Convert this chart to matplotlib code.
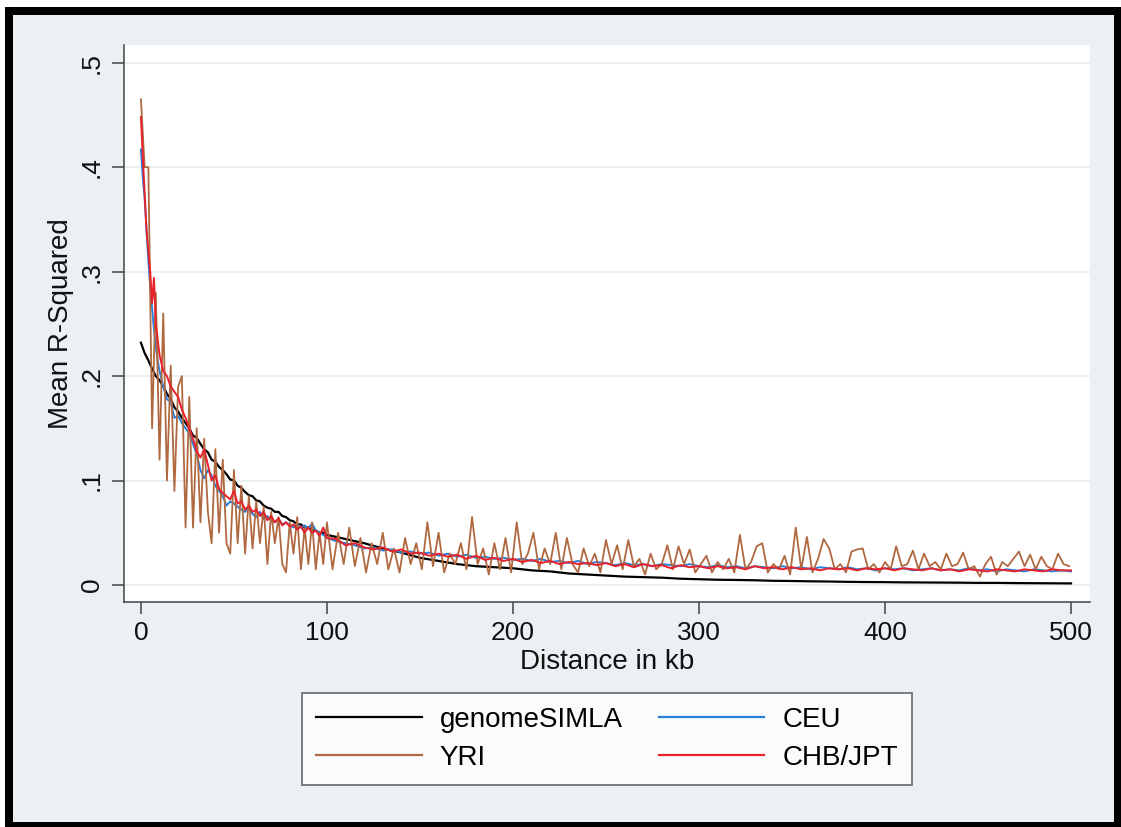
import numpy as np
import matplotlib
matplotlib.use("Agg")
import matplotlib.pyplot as plt
from matplotlib.patches import Rectangle

plt.rcParams['font.family'] = ['Liberation Sans', 'DejaVu Sans']

# genomeSIMLA: 2 kb steps to 100 kb, then 10 kb steps
sim_near = [0.232, 0.222, 0.215, 0.207, 0.200, 0.196, 0.190, 0.183, 0.178, 0.170,
            0.166, 0.160, 0.155, 0.150, 0.143, 0.141, 0.135, 0.130, 0.127, 0.120,
            0.118, 0.113, 0.110, 0.106, 0.101, 0.100, 0.095, 0.093, 0.089, 0.086,
            0.085, 0.081, 0.080, 0.076, 0.074, 0.073, 0.070, 0.070, 0.066, 0.065,
            0.062, 0.061, 0.058, 0.058, 0.055, 0.055, 0.053, 0.052, 0.050, 0.050,
            0.048]
sim_far = [0.044, 0.040, 0.035, 0.031, 0.026, 0.023, 0.020, 0.018, 0.017, 0.016,
           0.014, 0.013, 0.011, 0.010, 0.009, 0.008, 0.0075, 0.007, 0.006, 0.0055,
           0.005, 0.0048, 0.0045, 0.004, 0.0038, 0.0035, 0.0033, 0.003, 0.0028, 0.0027,
           0.0025, 0.0024, 0.0023, 0.0022, 0.002, 0.002, 0.0018, 0.0017, 0.0016, 0.0015]

# CEU: 1 kb steps to 10, 2 kb steps to 100, then 5 kb steps
ceu_first = [0.417, 0.390, 0.370, 0.340, 0.310, 0.285, 0.265, 0.245, 0.228, 0.215, 0.205]
ceu_near = [0.190, 0.178, 0.175, 0.160, 0.162, 0.155, 0.150, 0.145, 0.135, 0.125,
            0.110, 0.102, 0.110, 0.105, 0.095, 0.090, 0.085, 0.076, 0.080, 0.078,
            0.075, 0.072, 0.070, 0.074, 0.068, 0.065, 0.070, 0.063, 0.066, 0.062,
            0.060, 0.063, 0.058, 0.060, 0.057, 0.055, 0.058, 0.055, 0.057, 0.054,
            0.059, 0.052, 0.050, 0.048, 0.045]
ceu_far = [0.042, 0.040, 0.038, 0.035, 0.036, 0.033, 0.034, 0.031, 0.032, 0.030,
           0.031, 0.028, 0.030, 0.027, 0.029, 0.026, 0.027, 0.025, 0.026, 0.024,
           0.025, 0.023, 0.025, 0.022, 0.023, 0.021, 0.023, 0.020, 0.022, 0.021,
           0.019, 0.021, 0.019, 0.020, 0.018, 0.020, 0.019, 0.018, 0.020, 0.018,
           0.017, 0.019, 0.017, 0.018, 0.016, 0.018, 0.017, 0.016, 0.018, 0.016,
           0.017, 0.015, 0.017, 0.016, 0.015, 0.017, 0.015, 0.016, 0.014, 0.016,
           0.015, 0.016, 0.014, 0.015, 0.016, 0.014, 0.015, 0.014, 0.016, 0.014,
           0.015, 0.013, 0.015, 0.014, 0.013, 0.015, 0.014, 0.013, 0.014, 0.013]

# YRI: 2 kb steps to 100, then 3 kb steps from 103
yri_near = [0.465, 0.400, 0.400, 0.150, 0.280, 0.120, 0.260, 0.100, 0.210, 0.090,
            0.190, 0.200, 0.055, 0.180, 0.055, 0.150, 0.060, 0.140, 0.070, 0.040,
            0.130, 0.050, 0.120, 0.040, 0.030, 0.110, 0.040, 0.095, 0.030, 0.085,
            0.035, 0.080, 0.040, 0.075, 0.020, 0.070, 0.040, 0.065, 0.020, 0.012,
            0.060, 0.030, 0.065, 0.015, 0.055, 0.020, 0.060, 0.015, 0.050, 0.020,
            0.060]
yri_far = [0.015, 0.050, 0.020, 0.055, 0.018, 0.045, 0.012, 0.040, 0.020, 0.050,
           0.015, 0.035, 0.012, 0.045, 0.020, 0.040, 0.015, 0.060, 0.018, 0.050,
           0.012, 0.030, 0.020, 0.040, 0.015, 0.065, 0.020, 0.035, 0.010, 0.040,
           0.015, 0.045, 0.012, 0.060, 0.020, 0.030, 0.050, 0.015, 0.035, 0.020,
           0.050, 0.015, 0.045, 0.020, 0.012, 0.035, 0.018, 0.030, 0.012, 0.043,
           0.020, 0.038, 0.015, 0.043, 0.018, 0.025, 0.010, 0.030, 0.015, 0.020,
           0.038, 0.015, 0.037, 0.020, 0.034, 0.012, 0.020, 0.028, 0.012, 0.022,
           0.015, 0.025, 0.012, 0.048, 0.015, 0.022, 0.037, 0.040, 0.012, 0.020,
           0.015, 0.028, 0.010, 0.055, 0.015, 0.046, 0.012, 0.025, 0.044, 0.035,
           0.015, 0.020, 0.012, 0.032, 0.034, 0.035, 0.015, 0.020, 0.012, 0.022,
           0.015, 0.037, 0.018, 0.020, 0.033, 0.015, 0.030, 0.018, 0.022, 0.015,
           0.030, 0.018, 0.020, 0.031, 0.015, 0.018, 0.008, 0.020, 0.027, 0.010,
           0.022, 0.018, 0.025, 0.032, 0.018, 0.029, 0.015, 0.027, 0.018, 0.015,
           0.030, 0.020, 0.018]

# CHB/JPT: same grid as CEU
chb_first = [0.448, 0.410, 0.375, 0.340, 0.320, 0.300, 0.270, 0.294, 0.250, 0.235, 0.220]
chb_near = [0.205, 0.200, 0.190, 0.185, 0.180, 0.168, 0.160, 0.150, 0.140, 0.128,
            0.122, 0.130, 0.115, 0.100, 0.105, 0.092, 0.088, 0.085, 0.082, 0.090,
            0.078, 0.080, 0.072, 0.076, 0.070, 0.072, 0.066, 0.070, 0.062, 0.066,
            0.060, 0.064, 0.057, 0.060, 0.056, 0.058, 0.053, 0.056, 0.050, 0.055,
            0.050, 0.052, 0.047, 0.055, 0.045]
chb_far = [0.044, 0.038, 0.040, 0.036, 0.034, 0.036, 0.032, 0.034, 0.030, 0.031,
           0.028, 0.030, 0.027, 0.029, 0.025, 0.028, 0.024, 0.026, 0.023, 0.025,
           0.022, 0.024, 0.021, 0.023, 0.020, 0.022, 0.020, 0.021, 0.019, 0.021,
           0.018, 0.020, 0.017, 0.020, 0.018, 0.019, 0.016, 0.019, 0.017, 0.018,
           0.016, 0.018, 0.016, 0.017, 0.015, 0.018, 0.016, 0.017, 0.015, 0.017,
           0.015, 0.016, 0.014, 0.016, 0.015, 0.016, 0.014, 0.016, 0.015, 0.016,
           0.014, 0.016, 0.015, 0.014, 0.016, 0.014, 0.015, 0.013, 0.015, 0.014,
           0.013, 0.015, 0.014, 0.013, 0.015, 0.014, 0.013, 0.015, 0.014, 0.014]

# distance grids (kb)
x_sim = np.concatenate([np.arange(0, 101, 2), np.arange(110, 501, 10)])
x_hap = np.concatenate([np.arange(0, 11, 1), np.arange(12, 101, 2), np.arange(105, 501, 5)])
x_yri = np.concatenate([np.arange(0, 101, 2), 103 + 3 * np.arange(len(yri_far))])

y_sim = sim_near + sim_far
y_ceu = ceu_first + ceu_near + ceu_far
y_yri = yri_near + yri_far
y_chb = chb_first + chb_near + chb_far

W, H = 1121, 827
fig = plt.figure(figsize=(W / 100, H / 100), dpi=100, facecolor='white')

# outer frame and light background
fig.patches.append(Rectangle((5 / W, 0), (W - 5) / W, (H - 7) / H,
                             transform=fig.transFigure, facecolor='black',
                             edgecolor='none', zorder=-10))
fig.patches.append(Rectangle((13 / W, 5 / H), (1114 - 13) / W, (822 - 15) / H,
                             transform=fig.transFigure, facecolor='#EAF0F3',
                             edgecolor='none', zorder=-9))

ax = fig.add_axes([124 / W, 1 - 602 / H, (1090 - 124) / W, (602 - 45) / H])
ax.set_facecolor('white')

l_sim, = ax.plot(x_sim, y_sim, color='black', lw=1.6, zorder=3)
l_ceu, = ax.plot(x_hap, y_ceu, color='#2A7FDA', lw=1.4, zorder=4)
l_yri, = ax.plot(x_yri, y_yri, color='#B06840', lw=1.3, zorder=5)
l_chb, = ax.plot(x_hap, y_chb, color='#E8222C', lw=1.4, zorder=6)

ax.set_xlim(-9.1, 510.2)
ax.set_ylim(-0.0163, 0.517)

ax.set_xticks([0, 100, 200, 300, 400, 500])
ax.set_yticks([0, 0.1, 0.2, 0.3, 0.4, 0.5])
ax.set_yticklabels(['0', '.1', '.2', '.3', '.4', '.5'], rotation=90, va='center')
ax.tick_params(axis='both', labelsize=19, length=8.5, width=1.1, color='#444444',
               labelcolor='#111111')
ax.tick_params(axis='x', pad=5)
ax.tick_params(axis='y', pad=6)

ax.grid(axis='y', color='#E6ECEF', lw=1.2)
ax.set_axisbelow(True)
for s in ['top', 'right']:
    ax.spines[s].set_visible(False)
for s in ['left', 'bottom']:
    ax.spines[s].set_color('#444444')
    ax.spines[s].set_linewidth(1.1)

ax.set_xlabel('Distance in kb', fontsize=20, labelpad=3, color='#111111')
ax.set_ylabel('Mean R-Squared', fontsize=20, labelpad=4, color='#111111')

leg = ax.legend([l_sim, l_yri, l_ceu, l_chb], ['genomeSIMLA', 'YRI', 'CEU', 'CHB/JPT'],
                ncol=2, loc='upper center', bbox_to_anchor=(0.5, -0.163),
                fontsize=20, frameon=True, fancybox=False, edgecolor='#444444',
                handlelength=3.8, handletextpad=0.65, columnspacing=1.3,
                labelspacing=0.45, borderpad=0.5, borderaxespad=0)
leg.get_frame().set_linewidth(1.2)
for line in leg.get_lines():
    line.set_linewidth(1.6)

fig.savefig('out.png', dpi=100, facecolor=fig.get_facecolor())
